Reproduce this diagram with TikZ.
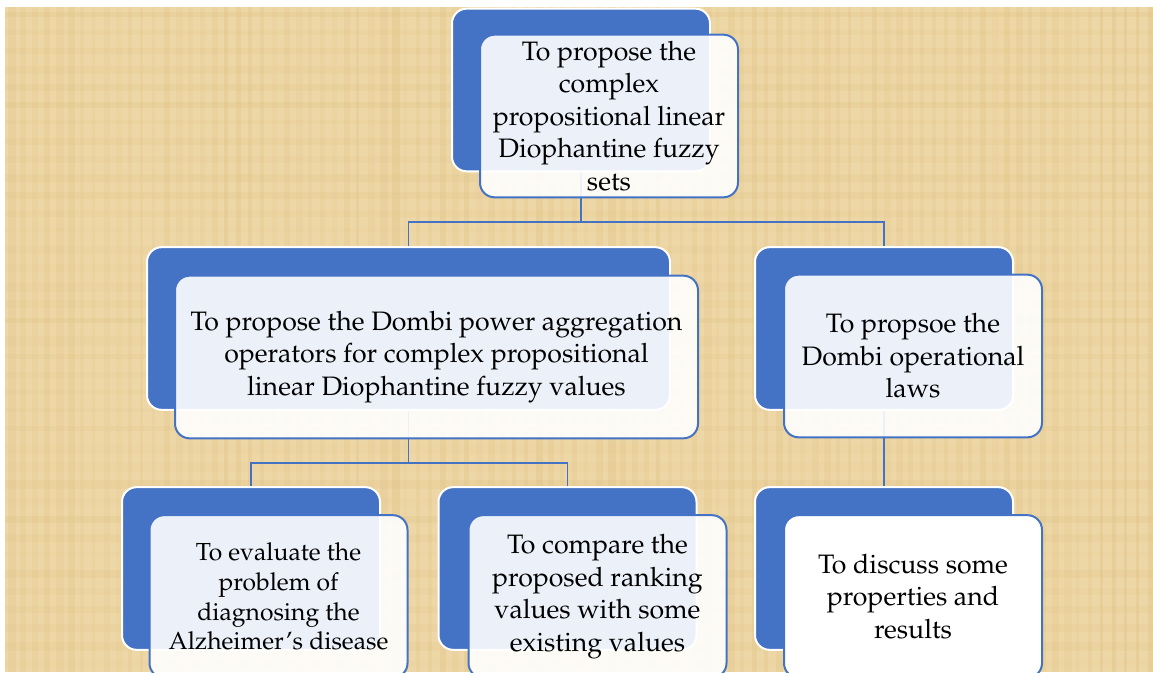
\documentclass[tikz,border=0pt]{standalone}
\usepackage[T1]{fontenc}
\usepackage{mathpazo}
\usepackage{tikz}

\definecolor{boxblue}{RGB}{68,114,196}
\definecolor{papyrus}{RGB}{238,215,166}
\definecolor{papyrusdark}{RGB}{222,192,130}

\pgfdeclarelayer{paper}
\pgfdeclarelayer{links}
\pgfsetlayers{paper,links,main}

\tikzset{
	backbox/.style = {draw = white, line width = 1.5pt, fill = boxblue, rounded corners = 11pt, minimum width = #1, minimum height = 122pt, inner sep = 0pt},
	frontbox/.style = {draw = boxblue, line width = 1.5pt, fill = white, fill opacity = 0.9, text opacity = 1, rounded corners = 11pt, minimum width = #1, minimum height = 122pt, inner sep = 0pt, align = center, font = \fontsize{20}{24.4}\selectfont},
	link/.style = {draw = boxblue, line width = 1.4pt}
}

\begin{document}
\begin{tikzpicture}[x = 0.75pt, y = -0.75pt]
		\useasboundingbox (0, 0) rectangle (1153, 672);
		\clip (0, 0) rectangle (1153, 672);
		\begin{pgfonlayer}{paper}
			\fill[white] (0, 0) rectangle (1153, 672);
			\fill[papyrus] (5, 7) rectangle (1153, 672);
			\pgfmathsetseed{11}
			\foreach \x in {8, 20, ..., 1148}
				\fill[papyrusdark, opacity = 0.1 + 0.25 * rnd] (\x, 7) rectangle (\x + 3 + 5 * rnd, 672);
			\foreach \y in {12, 30, ..., 670}
				\fill[papyrusdark, opacity = 0.08 + 0.18 * rnd] (5, \y) rectangle (1153, \y + 4 + 6 * rnd);
		\end{pgfonlayer}
		\node[backbox = 193.5pt] (topB) at (581, 90) {};
		\node[frontbox = 193.5pt] (top) at (609, 116) {To propose the\\ complex\\ propositional linear\\ Diophantine fuzzy\\ sets};
		\node[backbox = 392.25pt] (aggB) at (408.5, 328.5) {};
		\node[frontbox = 392.25pt] (agg) at (436.5, 357) {To propose the Dombi power aggregation\\ operators for complex propositional\\ linear Diophantine fuzzy values};
		\node[backbox = 193.5pt] (lawsB) at (884, 328.5) {};
		\node[frontbox = 193.5pt] (laws) at (913, 356) {To propsoe the\\ Dombi operational\\ laws};
		\node[backbox = 193.5pt] (evalB) at (251, 568.5) {};
		\node[frontbox = 193.5pt, font = \fontsize{18.5}{22.4}\selectfont] (eval) at (278.5, 596.5) {To evaluate the\\ problem of\\ diagnosing the\\ Alzheimer's disease};
		\node[backbox = 193.5pt] (compB) at (567.5, 568.5) {};
		\node[frontbox = 193.5pt] (comp) at (597.5, 596.5) {To compare the\\ proposed ranking\\ values with some\\ existing values};
		\node[backbox = 193.5pt] (discB) at (884, 568.5) {};
		\node[frontbox = 193.5pt, fill opacity = 1] (disc) at (913, 596.5) {To discuss some\\ properties and\\ results};
		\coordinate (busTop) at (581, 222);
		\coordinate (busMid) at (408.5, 463);
		\begin{pgfonlayer}{links}
			\draw[link] (topB.south) -- (busTop);
			\draw[link] (aggB.north) |- (busTop) -| (lawsB.north);
			\draw[link] (aggB.south) -- (busMid);
			\draw[link] (evalB.north) |- (busMid) -| (compB.north);
			\draw[link] (lawsB.south) -- (discB.north);
		\end{pgfonlayer}
\end{tikzpicture}
\end{document}
